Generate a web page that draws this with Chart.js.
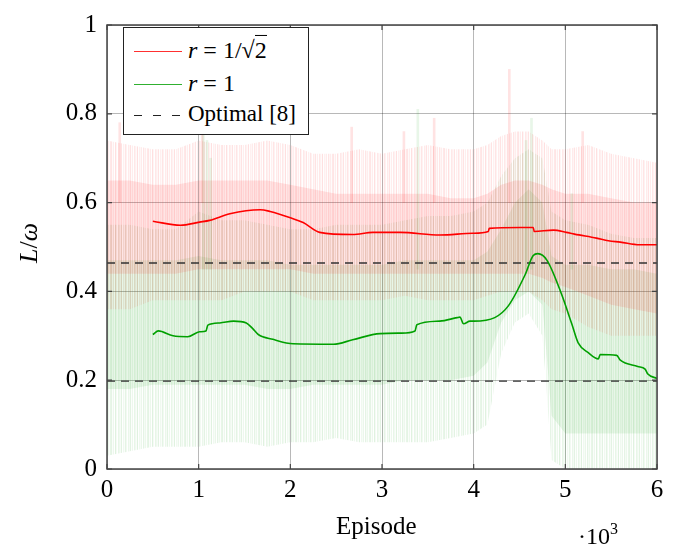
<!DOCTYPE html>
<html><head><meta charset="utf-8">
<script src="https://cdn.jsdelivr.net/npm/chart.js@4/dist/chart.umd.min.js"></script>
<style>
html,body{margin:0;padding:0;background:#fff;}
#wrap{position:relative;width:685px;height:546px;font-family:"Liberation Serif","Times New Roman",Tinos,"Noto Serif","DejaVu Serif",serif;}
canvas{position:absolute;left:0;top:0;}
.lbl{position:absolute;color:#000;white-space:nowrap;line-height:1;}
#legend{position:absolute;left:123px;top:27px;width:186px;height:108px;border:1px solid #222;background:#fff;box-sizing:border-box;}
.row{position:absolute;left:0;height:30px;width:100%;}
.sample{position:absolute;left:10px;width:48px;top:50%;height:1.3px;}
.txt{position:absolute;left:64px;top:50%;transform:translateY(-52%);font-size:24px;white-space:nowrap;}
.ov{border-top:1.2px solid #000;padding-top:1px;}
</style></head>
<body>
<div id="wrap">
<canvas id="c" width="685" height="546"></canvas>
<div id="legend">
  <div class="row" style="top:8px"><div class="sample" style="background:#ff3030"></div><div class="txt"><i>r</i> = 1/√<span class="ov">2</span></div></div>
  <div class="row" style="top:41px"><div class="sample" style="background:#30b030"></div><div class="txt"><i>r</i> = 1</div></div>
  <div class="row" style="top:72px"><div class="sample" style="background:repeating-linear-gradient(to right,#222 0 8px,transparent 8px 19px)"></div><div class="txt" style="font-size:23px">Optimal [8]</div></div>
</div>
<div class="lbl" style="left:336px;top:513px;font-size:25px;">Episode</div>
<div class="lbl" style="left:578px;top:521px;font-size:24px;">·10<sup style="font-size:16px;vertical-align:10px">3</sup></div>
<div class="lbl" style="left:29px;top:243px;font-size:26px;transform:translate(-50%,-50%) rotate(-90deg);"><i>L</i>/<i>ω</i></div>
</div>
<script>
// ---- data (episodes) ----
const bandX = [0,250,500,750,1000,1250,1500,1750,2000,2250,2500,2750,3000,3250,3500,3750,4000,4150,4300,4450,4600,4750,4850,5000,5250,5500,5750,6000];
// r = 1/sqrt(2): raw spread (dense core and outer extent)
const redHi  = [.65,.65,.64,.64,.65,.65,.65,.65,.64,.63,.62,.62,.62,.62,.62,.61,.61,.62,.64,.65,.65,.64,.63,.62,.62,.61,.60,.60];
const redLo  = [.44,.44,.44,.44,.45,.45,.45,.45,.45,.44,.44,.44,.44,.44,.44,.44,.44,.44,.44,.44,.44,.43,.42,.41,.39,.37,.36,.35];
const redMax = [.74,.73,.72,.72,.74,.73,.73,.74,.73,.71,.71,.72,.71,.72,.73,.72,.72,.73,.75,.76,.76,.74,.72,.72,.73,.71,.70,.69];
const redMin = [.36,.36,.38,.38,.38,.38,.40,.40,.40,.38,.38,.38,.38,.39,.38,.38,.38,.39,.40,.40,.40,.38,.36,.35,.32,.30,.30,.30];
// r = 1: raw spread
const greenHi  = [.47,.47,.47,.47,.48,.47,.47,.47,.46,.46,.46,.46,.46,.47,.47,.47,.47,.49,.54,.60,.63,.60,.48,.46,.46,.45,.45,.44];
const greenLo  = [.18,.18,.19,.19,.19,.19,.19,.18,.18,.19,.19,.19,.19,.20,.20,.20,.21,.24,.33,.38,.40,.37,.12,.08,.08,.08,.08,.08];
const greenMax = [.55,.55,.54,.54,.58,.56,.56,.55,.54,.54,.55,.55,.55,.56,.57,.57,.58,.60,.66,.70,.72,.70,.58,.56,.55,.53,.52,.52];
const greenMin = [.03,.04,.05,.05,.05,.06,.06,.05,.06,.06,.07,.06,.06,.06,.06,.07,.08,.10,.26,.33,.35,.30,.02,.00,.00,.00,.00,.00];
// isolated spikes of the raw curves
const redSpikeX   = [150,1050,2680,3250,3580,4400,5200];
const redSpikeTop = [.78,.76,.77,.76,.79,.90,.76];
const greenSpikeX   = [1040,1080,1120,3380,4560,4620,5060];
const greenSpikeTop = [.76,.74,.70,.81,.74,.79,.62];
// smoothed curves
const redX = [500,800,1010,1120,1340,1670,1780,2000,2140,2320,2680,2900,3200,3630,3990,4160,4170,4510,4650,4660,4870,5010,5100,5340,5470,5600,5810,6000];
const redY = [.558,.549,.556,.560,.575,.584,.580,.566,.555,.533,.528,.533,.533,.527,.531,.535,.542,.544,.544,.535,.538,.533,.529,.520,.514,.511,.505,.505];
const greenX = [500,560,720,880,1010,1080,1100,1230,1380,1520,1590,1650,1810,2030,2470,2680,2980,3210,3360,3380,3630,3820,3850,3890,3960,4000,4230,4380,4560,4650,4700,4800,4960,5070,5140,5250,5360,5380,5560,5600,5790,5870,5900,6000];
const greenY = [.303,.311,.300,.298,.309,.311,.324,.329,.333,.329,.316,.303,.292,.282,.281,.291,.305,.306,.311,.325,.333,.341,.342,.327,.333,.333,.341,.368,.437,.481,.485,.470,.393,.327,.284,.262,.248,.258,.256,.245,.231,.225,.214,.204];
// optimal levels
const optimalLevels = [0.464, 0.198];
const xTicks = [0,1,2,3,4,5,6];
const yTicks = ['0','0.2','0.4','0.6','0.8','1'];

const FONT = "'Liberation Serif','Times New Roman',Tinos,'Noto Serif','DejaVu Serif',serif";
const pts = (xa, ya) => xa.map((x,i)=>({x:x, y:ya[i]}));
const bars = (xa, top, base) => xa.map((x,i)=>({x:x, y:[base, top[i]]}));

// striped texture to mimic dense thin raw strokes (styling only)
function stripes(rgb, alphas){
  const c=document.createElement('canvas'); c.width=alphas.length; c.height=4;
  const g=c.getContext('2d');
  alphas.forEach((a,i)=>{ g.fillStyle=`rgba(${rgb},${a})`; g.fillRect(i,0,1,4); });
  return g.createPattern(c,'repeat');
}
const OUT_A = [0.10,0.02,0.07,0.00,0.12,0.04,0.00,0.09,0.06,0.03,0.11,0.00,0.06,0.02,0.10,0.05,0.00,0.08,
               0.04,0.11,0.01,0.07,0.00,0.09,0.05,0.02,0.12,0.00,0.06,0.03,0.08,0.00,0.10,0.04,0.07,0.01,0.09];
const RED_OUT = stripes('255,0,0', OUT_A);
const GRN_OUT = stripes('0,150,0', OUT_A);
const RED_IN='rgba(255,0,0,0.10)';
const GRN_IN='rgba(0,150,0,0.09)';

const band = (data, fillTarget, color, order) => ({type:'line', data, borderWidth:0, pointRadius:0, tension:0,
  fill: fillTarget===null?false:{target:fillTarget}, backgroundColor:color, borderColor:'transparent', order});

const datasets = [
  band(pts(bandX,greenMax), 1, GRN_OUT, 20),
  band(pts(bandX,greenMin), null, 'transparent', 20),
  band(pts(bandX,greenHi), 3, GRN_IN, 19),
  band(pts(bandX,greenLo), null, 'transparent', 19),
  band(pts(bandX,redMax), 5, RED_OUT, 18),
  band(pts(bandX,redMin), null, 'transparent', 18),
  band(pts(bandX,redHi), 7, RED_IN, 17),
  band(pts(bandX,redLo), null, 'transparent', 17),
  {type:'bar', data:bars(greenSpikeX,greenSpikeTop,0.45), backgroundColor:'rgba(0,150,0,0.09)', barThickness:2, order:16},
  {type:'bar', data:bars(redSpikeX,redSpikeTop,0.6), backgroundColor:'rgba(255,0,0,0.11)', barThickness:2, order:15},
  ...optimalLevels.map(v=>({type:'line', data:[{x:0,y:v},{x:6000,y:v}], borderColor:'#333', borderWidth:1.3, borderDash:[8,6], pointRadius:0, fill:false, order:5})),
  {type:'line', data:pts(greenX,greenY), borderColor:'#00a000', borderWidth:1.6, pointRadius:0, cubicInterpolationMode:'monotone', fill:false, order:2},
  {type:'line', data:pts(redX,redY), borderColor:'#ff0000', borderWidth:1.6, pointRadius:0, cubicInterpolationMode:'monotone', fill:false, order:1},
];

const frame = {
  id:'frame',
  afterDraw(chart){
    const {ctx, chartArea:a, scales:{x,y}} = chart;
    ctx.save();
    ctx.strokeStyle='#444'; ctx.lineWidth=1.2;
    ctx.beginPath();
    xTicks.forEach(t=>{const px=x.getPixelForValue(t*1000);
      ctx.moveTo(px,a.bottom);ctx.lineTo(px,a.bottom-5);ctx.moveTo(px,a.top);ctx.lineTo(px,a.top+5);});
    yTicks.forEach(t=>{const py=y.getPixelForValue(parseFloat(t));
      ctx.moveTo(a.left,py);ctx.lineTo(a.left+5,py);ctx.moveTo(a.right,py);ctx.lineTo(a.right-5,py);});
    ctx.stroke();
    ctx.lineWidth=1.5; ctx.strokeStyle='#444';
    ctx.strokeRect(a.left,a.top,a.right-a.left,a.bottom-a.top);
    ctx.restore();
  }
};

new Chart(document.getElementById('c'), {
  type:'line',
  data:{datasets},
  options:{
    responsive:false, animation:false, events:[],
    layout:{padding:{left:0,right:28,top:13,bottom:0}},
    plugins:{legend:{display:false}, tooltip:{enabled:false}, title:{display:false}},
    scales:{
      x:{type:'linear', min:0, max:6000, offset:false,
        afterBuildTicks(s){ s.ticks = xTicks.map(v=>({value:v*1000})); },
        ticks:{callback:(v)=>String(v/1000), font:{family:FONT, size:25}, color:'#000', padding:6, maxRotation:0, autoSkip:false},
        grid:{color:'rgba(0,0,0,0.28)', lineWidth:1, drawTicks:false, offset:false},
        border:{display:false},
        afterFit(s){ s.height = 77; }
      },
      y:{type:'linear', min:0, max:1,
        afterBuildTicks(s){ s.ticks = yTicks.map(v=>({value:parseFloat(v)})); },
        ticks:{callback:(v)=>{const i=yTicks.findIndex(t=>Math.abs(parseFloat(t)-v)<1e-9); return i>=0?yTicks[i]:'';}, font:{family:FONT, size:25}, color:'#000', padding:10, autoSkip:false},
        grid:{color:'rgba(0,0,0,0.28)', lineWidth:1, drawTicks:false},
        border:{display:false},
        afterFit(s){ s.width = 107; }
      }
    }
  },
  plugins:[frame]
});
</script>
</body></html>
